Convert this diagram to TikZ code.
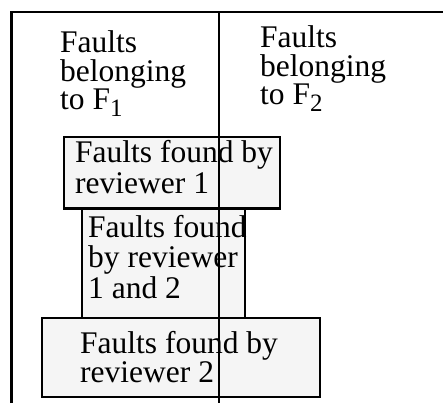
\documentclass[tikz,border=0pt]{standalone}
\usepackage{fontspec}
\setmainfont{Liberation Serif}
\definecolor{boxgray}{RGB}{245,245,245}
\newcommand{\subdig}[1]{\raisebox{-7pt}{\fontsize{25}{25}\selectfont #1}}
\begin{document}
\begin{tikzpicture}[x=1pt,y=-1pt,
  frameline/.style={line width=2.6pt},
  faultbox/.style={draw, line width=2.6pt, fill=boxgray},
  txt/.style={inner sep=0pt, anchor=base west, align=left, font=\fontsize{31.5}{29.5}\selectfont},
]
\useasboundingbox (0,0) rectangle (443,403);
% fault boxes
\draw[faultbox] (64,137) rectangle (280,208.5);
\draw[faultbox] (82,208.5) rectangle (245,318);
\draw[faultbox] (42,318) rectangle (320,397);
% texts (anchored at the baseline of their last line)
\node[txt, font=\fontsize{31.5}{28.5}\selectfont] (f1) at (60,110) {Faults\\belonging\\to F\subdig{1}};
\node[txt, font=\fontsize{31.5}{28.5}\selectfont] (f2) at (260,105) {Faults\\belonging\\to F\subdig{2}};
\node[txt, font=\fontsize{31.5}{30}\selectfont] (r1) at (75,193) {Faults found by\\reviewer 1};
\node[txt, font=\fontsize{31.5}{30.5}\selectfont] (r12) at (88,298) {Faults found\\by reviewer\\1 and 2};
\node[txt, font=\fontsize{31.5}{29}\selectfont] (r2) at (80,382) {Faults found by\\reviewer 2};
% frame
\draw[frameline] (11.7,403) -- (11.7,12) -- (443,12);
\draw[frameline] (219,12) -- (219,403);
\end{tikzpicture}
\end{document}
